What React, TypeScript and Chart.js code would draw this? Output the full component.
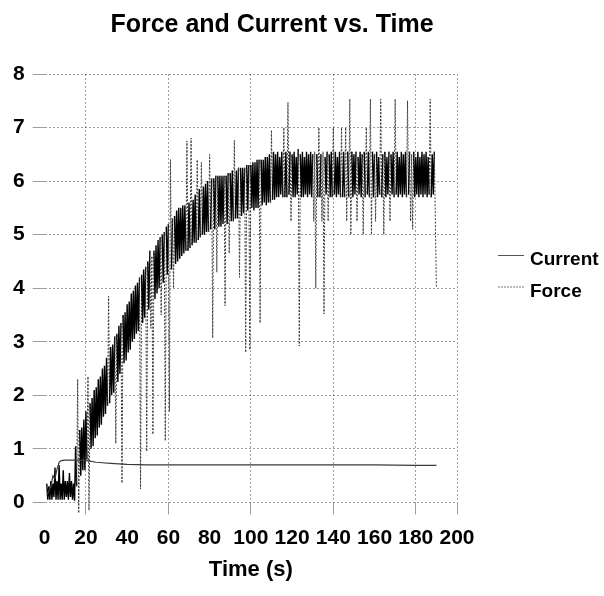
import React, { useEffect, useRef } from "react";
import { Chart, registerables } from "chart.js";

Chart.register(...registerables);

const chartTitle = "Force and Current vs. Time";
const xAxisTitle = "Time (s)";

const xMin = 0;
const xMax = 200;
const xStep = 20;
const xGridAt = [20, 60, 100, 140, 180, 200];
const yMin = 0;
const yMax = 8;
const yStep = 1;

const seriesLabels = ["Current", "Force"];

// Current (thin line)
const currentTime = [1, 2, 3, 4, 5, 6, 7, 8, 10, 12, 15, 18, 20, 22, 25, 28, 32, 36, 40, 50, 60, 80, 100, 120, 140, 160, 180, 190];
const currentValue = [0.15, 0.2, 0.3, 0.5, 0.45, 0.62, 0.75, 0.78, 0.79, 0.79, 0.79, 0.79, 0.78, 0.77, 0.75, 0.74, 0.73, 0.72, 0.71, 0.7, 0.7, 0.7, 0.7, 0.7, 0.7, 0.7, 0.69, 0.69];

// Force (sampled every 0.5 s starting at 1 s)
const forceStart = 1;
const forceStep = 0.5;
const forceValue = [
  0.35, 0.05, 0.3, 0.05, 0.4, 0.05, 0.35, 0.1, 0.65, 0.05, 0.4, 0.05, 0.7, 0.05, 0.35, 0.05, 0.6, 0.05, 0.4, 0.1,
  0.4, 0.05, 0.55, 0.1, 0.4, 0.05, 0.35, 0.03, 1.05, 0.3, 2.3, -0.2, 1.35, 0.5, 1.4, 0.6, 1.55, 0.6, 1.7, 0.8,
  2.35, -0.15, 1.85, 1.0, 1.95, 1.05, 2.1, 1.2, 2.15, 1.25, 2.3, 1.4, 2.35, 1.45, 2.5, 1.6, 2.55, 1.65, 2.7, 1.8,
  3.85, 1.85, 2.9, 2.0, 2.95, 2.05, 3.1, 1.1, 3.15, 2.25, 3.3, 2.4, 3.35, 0.36, 3.5, 2.6, 3.55, 2.65, 3.7, 2.8,
  3.75, 2.85, 3.9, 3.0, 3.95, 3.05, 4.05, 3.15, 4.1, 3.2, 4.2, 0.25, 4.25, 3.35, 4.35, 3.45, 4.4, 0.95, 4.5, 3.6,
  4.7, 3.25, 4.6, 1.27, 4.7, 3.8, 4.8, 3.9, 4.9, 4.0, 4.95, 3.5, 5.0, 4.1, 5.05, 1.15, 5.15, 4.25, 5.2, 1.7,
  6.4, 4.35, 5.3, 4.0, 5.35, 4.45, 5.45, 4.5, 5.5, 4.55, 5.5, 4.6, 5.55, 4.65, 5.55, 4.7, 6.75, 4.7, 5.6, 4.75,
  6.8, 4.8, 5.65, 4.85, 5.75, 4.85, 6.4, 4.9, 5.85, 4.95, 6.35, 5.0, 5.9, 5.0, 5.95, 5.05, 6.0, 5.05, 6.5, 5.1,
  6.05, 3.07, 6.05, 5.1, 6.1, 4.3, 6.1, 5.15, 6.1, 5.15, 6.1, 5.2, 6.1, 3.67, 6.1, 5.2, 6.15, 4.65, 6.15, 5.25,
  6.2, 5.25, 6.76, 5.3, 6.2, 5.3, 6.25, 4.2, 6.25, 5.35, 6.25, 5.4, 6.25, 2.8, 6.3, 5.45, 6.3, 2.85, 6.3, 5.5,
  6.35, 5.45, 6.35, 5.5, 6.4, 5.5, 6.4, 3.35, 6.4, 5.55, 6.4, 5.6, 6.45, 5.55, 6.45, 5.6, 6.5, 5.6, 6.95, 5.65,
  6.55, 5.65, 6.5, 5.7, 6.55, 5.7, 6.45, 5.75, 6.55, 5.7, 7.0, 5.7, 6.55, 5.7, 7.47, 5.75, 6.55, 5.25, 6.5, 5.7,
  6.55, 5.7, 6.45, 5.75, 6.6, 2.92, 6.5, 5.7, 6.55, 5.7, 6.45, 5.75, 6.55, 5.7, 6.5, 5.75, 6.55, 5.7, 6.5, 5.25,
  6.55, 4.0, 6.5, 5.7, 7.0, 5.7, 6.5, 5.25, 6.55, 3.52, 6.45, 5.75, 6.55, 5.25, 6.5, 5.7, 6.55, 5.7, 7.0, 5.75,
  6.55, 5.7, 6.45, 5.75, 6.55, 5.7, 7.0, 5.7, 6.55, 5.7, 7.0, 5.25, 6.55, 5.7, 7.53, 5.0, 6.55, 5.7, 6.5, 5.75,
  6.55, 5.25, 6.45, 5.75, 6.55, 5.7, 6.5, 5.0, 6.55, 5.7, 7.0, 5.75, 6.55, 5.7, 7.53, 5.0, 6.55, 5.7, 6.5, 5.25,
  6.55, 5.7, 6.45, 5.75, 7.53, 5.7, 6.5, 5.0, 6.55, 5.7, 6.45, 5.75, 6.55, 5.25, 6.5, 5.75, 6.55, 5.7, 7.53, 5.75,
  6.55, 5.7, 6.45, 5.75, 6.55, 5.7, 6.5, 5.75, 6.55, 5.7, 7.5, 5.75, 6.55, 5.25, 6.5, 5.1, 6.55, 5.7, 6.45, 5.75,
  6.55, 5.7, 6.45, 5.75, 6.55, 5.7, 6.5, 5.75, 6.55, 5.7, 6.45, 5.75, 7.53, 5.7, 6.5, 5.75, 6.55, 5.25, 4.0,
];

const FONT = '"Liberation Sans", Arial, Helvetica, sans-serif';
const gridGray = "rgba(60,60,60,0.5)";

const isSpike = (c: any) => Math.abs(c.p1.parsed.y - c.p0.parsed.y) > 1.2;

const overlayPlugin = {
  id: "overlayText",
  afterDraw(chart: any) {
    const ctx = chart.ctx;
    const area = chart.chartArea;
    ctx.save();
    ctx.fillStyle = "#000";
    ctx.font = `bold 25px ${FONT}`;
    ctx.textAlign = "center";
    ctx.textBaseline = "middle";
    ctx.fillText(chartTitle, 272, 25);

    const lx = area.right + 41;
    chart.data.datasets.forEach((ds: any, i: number) => {
      const ty = 260 + i * 31.5;
      ctx.strokeStyle = i === 0 ? "#555" : "#777";
      ctx.lineWidth = 1;
      ctx.setLineDash(i === 1 ? [2, 1] : []);
      ctx.beginPath();
      ctx.moveTo(lx, ty - 4.5);
      ctx.lineTo(lx + 26, ty - 4.5);
      ctx.stroke();
      ctx.setLineDash([]);
      ctx.font = `bold 19px ${FONT}`;
      ctx.textAlign = "left";
      ctx.textBaseline = "middle";
      ctx.fillStyle = "#000";
      ctx.fillText(ds.label, lx + 32, ty);
    });
    ctx.restore();
  },
};

export default function App() {
  const canvasRef = useRef<HTMLCanvasElement | null>(null);

  useEffect(() => {
    if (!canvasRef.current) return;
    const currentPts = currentTime.map((t, i) => ({ x: t, y: currentValue[i] }));
    const forcePts = forceValue.map((v, i) => ({ x: forceStart + i * forceStep, y: v }));

    const chart = new Chart(canvasRef.current, {
      type: "line",
      data: {
        datasets: [
          {
            label: seriesLabels[0],
            data: currentPts,
            borderColor: "#3a3a3a",
            borderWidth: 1.2,
            pointRadius: 0,
            tension: 0,
            fill: false,
          },
          {
            label: seriesLabels[1],
            data: forcePts,
            borderColor: "#000",
            borderWidth: 1.4,
            pointRadius: 0,
            tension: 0,
            fill: false,
            clip: { left: 0, top: 0, right: 0, bottom: 12 } as any,
            segment: {
              borderColor: (c: any) => (isSpike(c) ? "#3c3c3c" : undefined),
              borderWidth: (c: any) => (isSpike(c) ? 1 : undefined),
              borderDash: (c: any) => (isSpike(c) ? [2, 1.5] : undefined),
            },
          },
        ],
      },
      options: {
        animation: false,
        responsive: true,
        maintainAspectRatio: false,
        layout: { padding: { left: 5, top: 74, right: 147, bottom: 13 } },
        plugins: {
          legend: { display: false },
          title: { display: false },
          tooltip: { enabled: false },
        },
        scales: {
          x: {
            type: "linear",
            min: xMin,
            max: xMax,
            ticks: {
              stepSize: xStep,
              autoSkip: false,
              maxRotation: 0,
              padding: 11,
              color: "#000",
              font: { family: FONT, size: 21, weight: "bold" },
            },
            grid: {
              color: (c: any) =>
                c.tick && xGridAt.includes(c.tick.value) ? gridGray : "rgba(0,0,0,0)",
              lineWidth: 1,
              tickLength: 12,
              drawTicks: true,
            },
            border: { display: false, dash: [2, 2] },
            title: {
              display: true,
              text: xAxisTitle,
              color: "#000",
              font: { family: FONT, size: 22, weight: "bold" },
              padding: { top: -5, bottom: 0 },
            },
          },
          y: {
            min: yMin,
            max: yMax,
            ticks: {
              stepSize: yStep,
              padding: 8,
              color: "#000",
              font: { family: FONT, size: 21, weight: "bold" },
            },
            grid: {
              color: gridGray,
              lineWidth: 1,
              tickLength: 12,
            },
            border: { display: false, dash: [2, 2] },
          },
        },
      },
      plugins: [overlayPlugin],
    });
    return () => chart.destroy();
  }, []);

  return (
    <div style={{ position: "absolute", left: 0, top: 0, width: 604, height: 596, background: "#fff" }}>
      <canvas ref={canvasRef} />
    </div>
  );
}
